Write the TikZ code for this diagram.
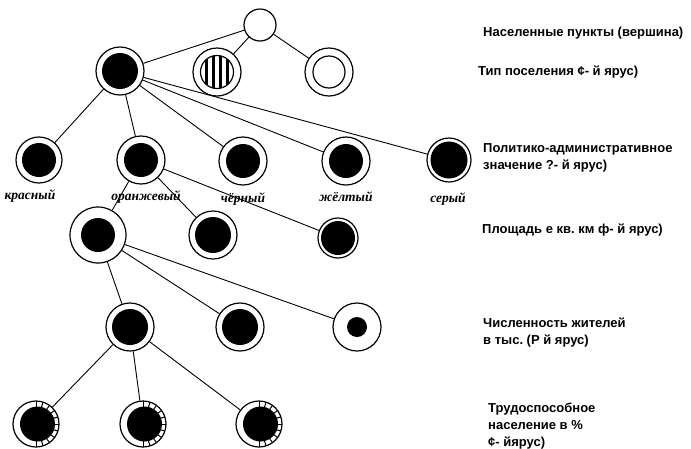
\documentclass[tikz,border=0pt]{standalone}
\usepackage{fontspec}
\setmainfont{Liberation Serif}
\setsansfont{Liberation Sans}
\frenchspacing
\begin{document}
\begin{tikzpicture}[x=1pt,y=-1pt,
        lnk/.style={line width=0.9pt},
        krug/.style={circle,draw,line width=1.2pt,fill=white,inner sep=0pt,minimum size=#1},
        krug/.default=48pt,
        yarus/.style={anchor=west,align=left,inner sep=0pt,font=\sffamily\bfseries\fontsize{13}{17}\selectfont},
        cvet/.style={font=\rmfamily\bfseries\itshape\fontsize{13.5}{14}\selectfont}]
        \useasboundingbox(0,0)rectangle(691,448);
        % vershina i yarusy
        \node[krug=32pt](top) at (260,25){};
        \node[krug](tip1) at (120,71){};
        \node[krug](tip2) at (217,72){};
        \node[krug](tip3) at (329,72){};
        \node[krug=46pt](kr) at (39,160){};
        \node[krug](or) at (141,160){};
        \node[krug](ch) at (243,161){};
        \node[krug](zh) at (346,161){};
        \node[krug=44pt](se) at (449,160){};
        \node[krug=56pt](pl1) at (98,235){};
        \node[krug](pl2) at (213,235){};
        \node[krug=40pt](pl3) at (338,238){};
        \node[krug](chis1) at (130,327){};
        \node[krug](chis2) at (240,327){};
        \node[krug](chis3) at (357,327){};
        \node[krug=46pt](tr1) at (36,424){};
        \node[krug=46pt](tr2) at (143,424){};
        \node[krug=46pt](tr3) at (259,424){};
        % svyazi
        \draw[lnk](top)--(tip1) (top)--(tip2) (top)--(tip3);
        \foreach \n in {kr,or,ch,zh,se} \draw[lnk](tip1)--(\n);
        \foreach \n in {pl1,pl2,pl3} \draw[lnk](or)--(\n);
        \foreach \n in {chis1,chis2,chis3} \draw[lnk](pl1)--(\n);
        \foreach \n in {tr1,tr2,tr3} \draw[lnk](chis1)--(\n);
        % zalivka
        \foreach \n/\r in {tip1/18,kr/17,or/17,ch/17,zh/17,se/18.5,pl1/17,pl2/18,pl3/17,chis1/18,chis2/18,chis3/10}
            \fill(\n)circle(\r pt);
        \draw[line width=1.2pt](tip3)circle(16pt);
        \draw[line width=1.2pt](tip2)circle(16.5pt);
        \begin{scope}
            \clip(tip2)circle(16.5pt);
            \foreach \dx in {-10.5,-3.5,3.5,10.5}
                \draw[line width=2.2pt]([xshift=\dx pt]tip2.north)--([xshift=\dx pt]tip2.south);
        \end{scope}
        \foreach \n in {tr1,tr2,tr3}{
            \fill([xshift=1.5pt]\n.center)circle(17.5pt);
            \foreach \a in {-90,-72,...,90}
                \draw[line width=1pt](\n.center)++(\a:17pt)--++(\a:6pt);
        }
        % cveta
        \node[cvet](lkr) at (30,196){красный};
        \node[cvet](lor) at (146,197){оранжевый};
        \node[cvet](lch) at (243,199){чёрный};
        \node[cvet](lzh) at (346,197){жёлтый};
        \node[cvet](lse) at (448,199){серый};
        % yarusy
        \node[yarus](y0) at (483,33){Населенные пункты (вершина)};
        \node[yarus](y1) at (478,72){Тип поселения ¢- й ярус)};
        \node[yarus](y2) at (483,158){Политико-административное\\значение ?- й ярус)};
        \node[yarus](y3) at (482,230){Площадь е кв. км ф- й ярус)};
        \node[yarus](y4) at (483,333){Численность жителей\\в тыс. (Р й ярус)};
        \node[yarus](y5) at (488,426){Трудоспособное\\население в \%\\¢- йярус)};
    \end{tikzpicture}
\end{document}
